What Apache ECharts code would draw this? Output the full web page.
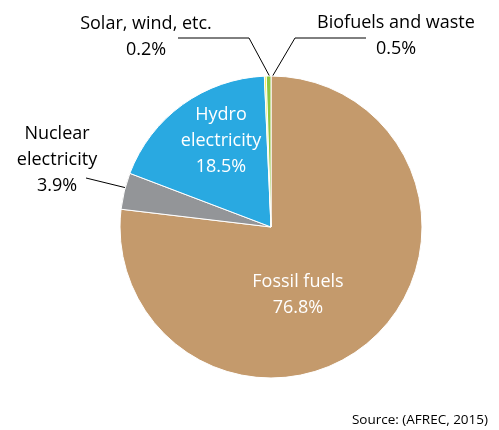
<!DOCTYPE html>
<html><head><meta charset="utf-8">
<script src="https://cdn.jsdelivr.net/npm/echarts@6/dist/echarts.min.js"></script>
<style>html,body{margin:0;padding:0;background:#fff}#c{width:499px;height:430px}</style>
</head><body><div id="c"></div>
<script>
const categories = ['Fossil fuels', 'Nuclear\nelectricity', 'Hydro\nelectricity', 'Solar, wind, etc.', 'Biofuels and waste'];
const shares = [76.8, 3.9, 18.5, 0.2, 0.5];
const colors = ['#C49A6C', '#939598', '#29A9E1', '#F2E73A', '#8DC63F'];
const insideLabel = [true, false, true, false, false];

const FONT = '"Open Sans"';
const chart = echarts.init(document.getElementById('c'), null, {renderer: 'canvas'});

// label anchor positions (layout only)
const labelPos = [
  {x: 298, y: 295},
  {x: 57, y: 160, line: [[139, 191], [86, 178], [86, 178]]},
  {x: 221, y: 141},
  {x: 146, y: 37, line: [[270, 77], [249, 38], [178, 38]]},
  {x: 396, y: 36, line: [[272, 77], [295, 38], [366, 38]]}
];

chart.setOption({
  animation: false,
  title: {
    text: 'Source: (AFREC, 2015)',
    right: 6, top: 408,
    textStyle: {fontFamily: FONT, fontSize: 13.5, fontWeight: 'normal', color: '#000'}
  },
  series: [{
    type: 'pie',
    center: [271, 227],
    radius: 151,
    startAngle: 90,
    clockwise: true,
    avoidLabelOverlap: false,
    itemStyle: {borderColor: '#fff', borderWidth: 1},
    label: {fontFamily: FONT, fontSize: 18, lineHeight: 26, color: '#000', align: 'center'},
    labelLine: {lineStyle: {color: '#000', width: 1}},
    data: categories.map((c, i) => ({
      name: c,
      value: shares[i],
      itemStyle: {color: colors[i]},
      label: {
        position: insideLabel[i] ? 'inside' : 'outside',
        color: insideLabel[i] ? '#fff' : '#000',
        formatter: () => c + '\n' + shares[i].toFixed(1) + '%'
      },
      labelLine: {show: !insideLabel[i]}
    })),
    labelLayout: function (p) {
      const lp = labelPos[p.dataIndex];
      const r = {x: lp.x, y: lp.y, align: 'center', verticalAlign: 'middle'};
      if (lp.line) r.labelLinePoints = lp.line;
      return r;
    },
    emphasis: {disabled: true}
  }]
});
</script></body></html>
